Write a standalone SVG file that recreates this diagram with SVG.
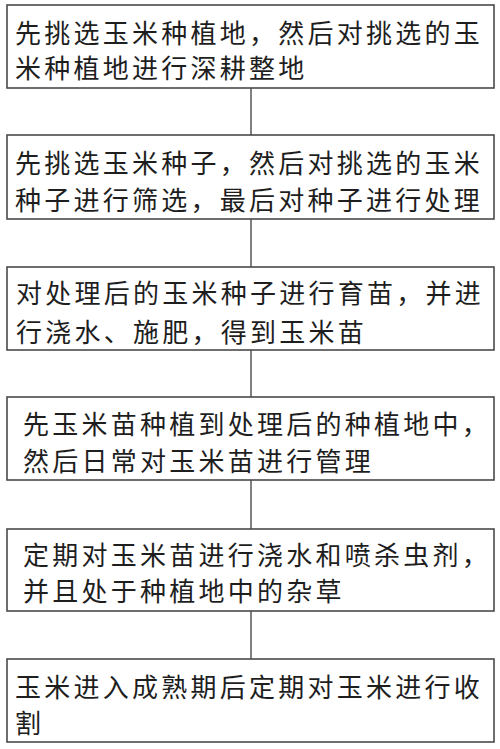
<svg xmlns="http://www.w3.org/2000/svg" width="500" height="749" viewBox="0 0 500 749">
<style>
.box{fill:#fff;stroke:#4a4a4a;stroke-width:1.6}
.t{font-family:"Noto Sans CJK SC","Noto Sans",sans-serif;font-size:26px;fill:#1e1e1e;letter-spacing:3.25px}
.c{stroke:#4a4a4a;stroke-width:1.4;fill:none}
</style>
<rect width="500" height="749" fill="#fff"/>
<g id="connectors">
<line class="c" x1="251" y1="88" x2="251" y2="135"/>
<line class="c" x1="251" y1="219" x2="251" y2="267"/>
<line class="c" x1="251" y1="350" x2="251" y2="397"/>
<line class="c" x1="251" y1="480" x2="251" y2="529"/>
<line class="c" x1="251" y1="611" x2="251" y2="659"/>
</g>
<g id="n1">
<rect class="box" x="7" y="5" width="487" height="83"/>
<text class="t" x="15" y="43">先挑选玉米种植地，然后对挑选的玉</text>
<text class="t" x="15" y="78">米种植地进行深耕整地</text>
</g>
<g id="n2">
<rect class="box" x="7" y="135" width="487" height="84"/>
<text class="t" x="15" y="173">先挑选玉米种子，然后对挑选的玉米</text>
<text class="t" x="15" y="210">种子进行筛选，最后对种子进行处理</text>
</g>
<g id="n3">
<rect class="box" x="7" y="267" width="487" height="83"/>
<text class="t" x="16" y="303">对处理后的玉米种子进行育苗，并进</text>
<text class="t" x="16" y="342">行浇水、施肥，得到玉米苗</text>
</g>
<g id="n4">
<rect class="box" x="7" y="397" width="487" height="83"/>
<text class="t" x="23" y="434">先玉米苗种植到处理后的种植地中，</text>
<text class="t" x="23" y="471">然后日常对玉米苗进行管理</text>
</g>
<g id="n5">
<rect class="box" x="7" y="529" width="487" height="82"/>
<text class="t" x="23" y="565">定期对玉米苗进行浇水和喷杀虫剂，</text>
<text class="t" x="23" y="601">并且处于种植地中的杂草</text>
</g>
<g id="n6">
<rect class="box" x="7" y="659" width="487" height="83"/>
<text class="t" x="15" y="697">玉米进入成熟期后定期对玉米进行收</text>
<text class="t" x="15" y="733">割</text>
</g>
</svg>
